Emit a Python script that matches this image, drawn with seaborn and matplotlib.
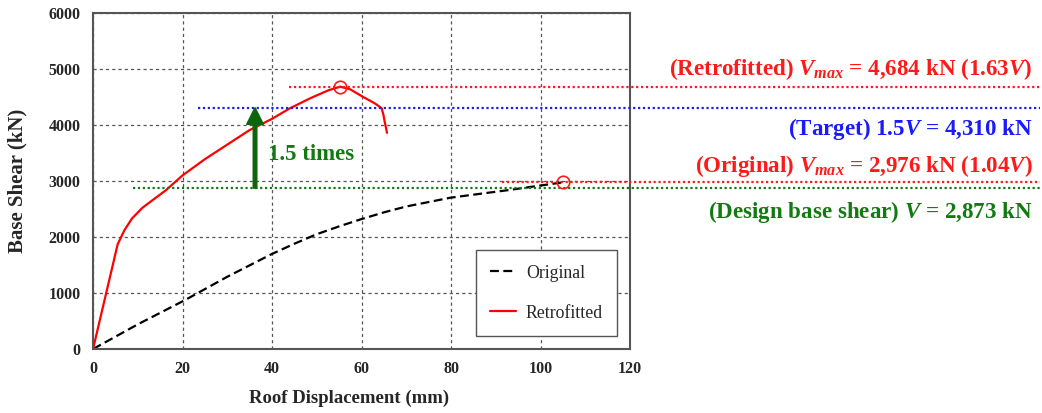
import numpy as np
import pandas as pd
import matplotlib
matplotlib.use("Agg")
import matplotlib.pyplot as plt
import seaborn as sns

# pushover curves
orig_disp = [0, 10, 20.7, 30, 39.8, 45, 50, 55, 59.8, 65, 70, 79.9, 92.4, 105]
orig_shear = [0, 440, 880, 1290, 1690, 1880, 2050, 2190, 2315, 2440, 2545, 2702, 2833, 2976]

retro_disp = [0, 5.5, 7, 8.7, 11, 13.5, 16.2, 20, 25, 30, 35, 40, 43.8, 48.6,
              52.6, 55.2, 57.4, 60.6, 62.9, 64.5, 64.9, 65.1, 65.7]
retro_shear = [0, 1870, 2120, 2330, 2520, 2670, 2830, 3100, 3390, 3650, 3910, 4110, 4290,
               4480, 4620, 4684, 4640, 4490, 4390, 4300, 4180, 4090, 3860]

design_V = 2873
target_V = 1.5 * design_V
orig_peak = (105, 2976)
retro_peak = (55.2, 4684)

df = pd.concat([
    pd.DataFrame({"disp": orig_disp, "shear": orig_shear, "Model": "Original"}),
    pd.DataFrame({"disp": retro_disp, "shear": retro_shear, "Model": "Retrofitted"}),
], ignore_index=True)

sns.set_style("white")
plt.rcParams["font.family"] = ["Liberation Serif", "DejaVu Serif"]
plt.rcParams["mathtext.fontset"] = "custom"
plt.rcParams["mathtext.rm"] = "Liberation Serif:bold"
plt.rcParams["mathtext.it"] = "Liberation Serif:italic:bold"
plt.rcParams["mathtext.bf"] = "Liberation Serif:bold"

fig = plt.figure(figsize=(10.42, 4.13), dpi=100)
ax = fig.add_axes([0.0893, 0.155, 0.5153, 0.8135])

sns.lineplot(data=df, x="disp", y="shear", hue="Model", style="Model", sort=False,
             palette={"Original": "black", "Retrofitted": "red"},
             dashes={"Original": (4, 2), "Retrofitted": ""},
             linewidth=1.6, ax=ax)

red = "#ff1a1a"
blue = "#1a1aff"
green = "#137a13"
x_right = 211.6

# reference levels (dotted lines running out past the axes)
levels = [retro_peak[1], target_V, orig_peak[1], design_V]
starts = [43.8, 23.5, 91.5, 8.9]
colors = [red, blue, red, green]
for lv, xs, c in zip(levels, starts, colors):
    ax.hlines(lv, xs, x_right, colors=c, linestyles=(0, (1, 1.2)), linewidth=1.6,
              clip_on=False, zorder=3)

# peak markers
ax.plot(*retro_peak, "o", mfc="none", mec=red, ms=9, mew=1.2, zorder=4)
ax.plot(*orig_peak, "o", mfc="none", mec=red, ms=9, mew=1.2, zorder=4)

# labels on the right
labels = [
    rf"(Retrofitted) $V_{{max}}$ = {retro_peak[1]:,.0f} kN ({retro_peak[1] / design_V:.2f}$V$)",
    rf"(Target) 1.5$V$ = {target_V:,.0f} kN",
    rf"(Original) $V_{{max}}$ = {orig_peak[1]:,.0f} kN ({orig_peak[1] / design_V:.2f}$V$)",
    rf"(Design base shear) $V$ = {design_V:,.0f} kN",
]
offsets = [12.8, -15.5, 11.5, -17.5]
for lv, txt, c, dy in zip(levels, labels, colors, offsets):
    ax.annotate(txt, xy=(0.991, lv), xycoords=("figure fraction", "data"),
                xytext=(0, dy), textcoords="offset points", ha="right", va="center",
                color=c, fontsize=16.6, fontweight="bold", annotation_clip=False)

# 1.5 times arrow
ax.annotate("", xy=(36.2, target_V), xytext=(36.2, design_V),
            arrowprops=dict(facecolor="#0b650b", edgecolor="#0b650b", width=2.6,
                            headwidth=12, headlength=12, shrink=0), zorder=5)
ax.text(39.1, 3470, "1.5 times", color=green, fontsize=16.5, fontweight="bold",
        va="center", ha="left")

ax.set_xlim(0, 120)
ax.set_ylim(0, 6000)
ax.set_xticks(np.arange(0, 121, 20))
ax.set_yticks(np.arange(0, 6001, 1000))
ax.grid(True, color="#555555", linestyle=(0, (2.5, 2.5)), linewidth=0.9)
for s in ax.spines.values():
    s.set_color("#555555")
    s.set_linewidth(1.5)
ax.tick_params(direction="out", length=5, width=1.2, color="#555555",
               labelsize=11.5, pad=4)
for t in ax.get_xticklabels() + ax.get_yticklabels():
    t.set_fontweight("bold")
ax.set_xlabel("Roof Displacement (mm)", fontsize=13.5, fontweight="bold")
ax.set_ylabel("Base Shear (kN)", fontsize=15, fontweight="bold")
ax.xaxis.set_label_coords(0.477, -0.122)
ax.yaxis.set_label_coords(-0.122, 0.5)

old = ax.get_legend()
handles = old.legend_handles
names = [t.get_text() for t in old.get_texts()]
old.remove()
leg = ax.legend(handles, names, loc="lower right", bbox_to_anchor=(0.976, 0.039),
                fontsize=12.8, labelspacing=1.3, handlelength=1.45, handletextpad=0.55,
                borderpad=0.8, borderaxespad=0, fancybox=False, framealpha=1,
                edgecolor="#555555")
leg.get_frame().set_linewidth(1.0)

fig.savefig("out.png", dpi=100)
